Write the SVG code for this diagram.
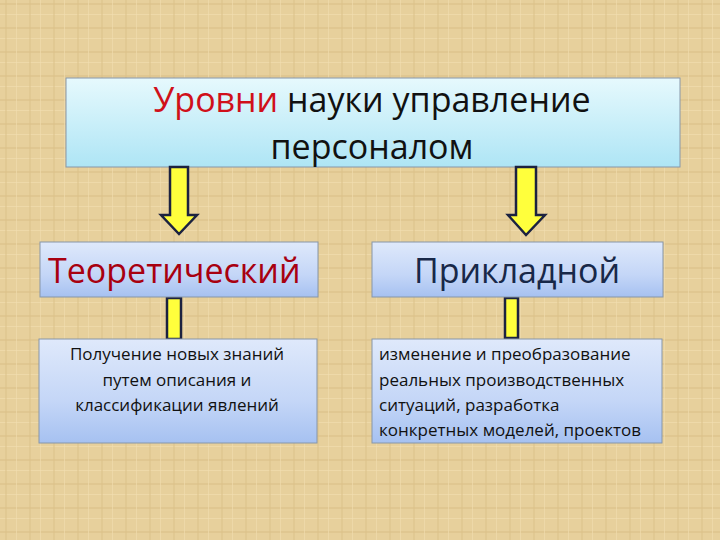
<svg xmlns="http://www.w3.org/2000/svg" width="720" height="540" viewBox="0 0 720 540">
  <defs>
    <pattern id="bg" width="24" height="24" patternUnits="userSpaceOnUse">
      <rect width="24" height="24" fill="#e7d09c"/>
      <rect x="0" y="3" width="24" height="2" fill="#dcc28a" opacity="0.6"/>
      <rect x="0" y="14" width="24" height="1" fill="#f1deb0" opacity="0.7"/>
      <rect x="5" y="0" width="2" height="24" fill="#dcc28a" opacity="0.5"/>
      <rect x="16" y="0" width="1" height="24" fill="#f1deb0" opacity="0.6"/>
    </pattern>
    <linearGradient id="cyan" x1="0" y1="0" x2="0" y2="1">
      <stop offset="0" stop-color="#e6f9fd"/>
      <stop offset="1" stop-color="#aee5f5"/>
    </linearGradient>
    <linearGradient id="blue" x1="0" y1="0" x2="0" y2="1">
      <stop offset="0" stop-color="#dfe9fb"/>
      <stop offset="0.6" stop-color="#c4d6f7"/>
      <stop offset="1" stop-color="#a6c1f1"/>
    </linearGradient>
    <style>
      .box { stroke: #8796a8; stroke-width: 1; }
      .arrow { fill: #ffff3c; stroke: #1c2240; stroke-width: 2.5; stroke-linejoin: miter; }
      .t { font-family: "Open Sans", "Liberation Sans", sans-serif; }
      .body { font-size: 17px; fill: #111; }
    </style>
  </defs>
  <rect width="720" height="540" fill="url(#bg)"/>

  <g id="title">
    <rect class="box" x="66" y="78" width="614" height="89" fill="url(#cyan)"/>
    <text class="t" x="372" y="112" font-size="34" text-anchor="middle" fill="#111"><tspan fill="#d0101a">Уровни</tspan> науки управление</text>
    <text class="t" x="372" y="159" font-size="34" text-anchor="middle" fill="#111">персоналом</text>
  </g>

  <g id="connectors">
    <path class="arrow" d="M170,167 L188,167 L188,215 L197,215 L179,234 L161,215 L170,215 Z"/>
    <path class="arrow" d="M516,167 L536,167 L536,215 L545,215 L526,235 L508,215 L516,215 Z"/>
    <rect class="arrow" x="167" y="298" width="14" height="41" stroke-width="2"/>
    <rect class="arrow" x="505" y="298" width="13" height="40" stroke-width="2"/>
  </g>

  <g id="theory">
    <rect class="box" x="40" y="242" width="278" height="55" fill="url(#blue)"/>
    <text class="t" x="48" y="283" font-size="34" fill="#a80010">Теоретический</text>
  </g>

  <g id="applied">
    <rect class="box" x="372" y="242" width="291" height="55" fill="url(#blue)"/>
    <text class="t" x="517" y="283" font-size="34" text-anchor="middle" fill="#182848">Прикладной</text>
  </g>

  <g id="theory-desc">
    <rect class="box" x="39" y="339" width="278" height="104" fill="url(#blue)"/>
    <text class="t body" x="177" y="360" text-anchor="middle">Получение новых знаний</text>
    <text class="t body" x="177" y="386" text-anchor="middle">путем описания и</text>
    <text class="t body" x="177" y="411" text-anchor="middle">классификации явлений</text>
  </g>

  <g id="applied-desc">
    <rect class="box" x="372" y="339" width="290" height="104" fill="url(#blue)"/>
    <text class="t body" x="379" y="360">изменение и преобразование</text>
    <text class="t body" x="379" y="386">реальных производственных</text>
    <text class="t body" x="379" y="411">ситуаций, разработка</text>
    <text class="t body" x="379" y="436">конкретных моделей, проектов</text>
  </g>
</svg>
